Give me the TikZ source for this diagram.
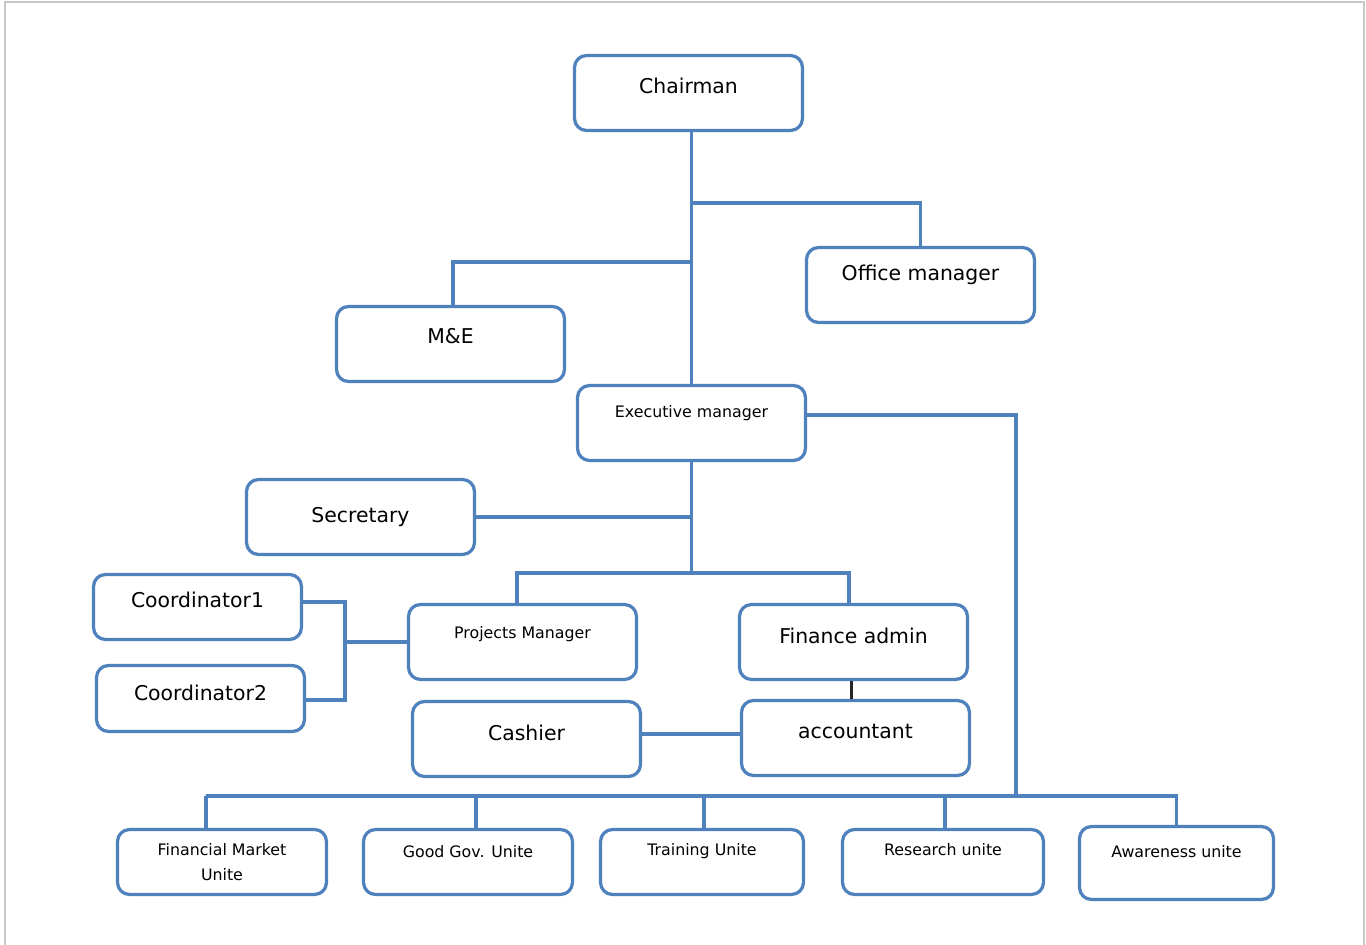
\documentclass[tikz,border=0pt]{standalone}
\usepackage{fontspec}
\setmainfont{DejaVu Sans}
\usetikzlibrary{calc}

\definecolor{orgblue}{RGB}{79,129,189}
\definecolor{framegray}{RGB}{200,200,200}

\begin{document}
\begin{tikzpicture}[x=0.02cm, y=-0.02cm]
	\tikzset{comp/.style={
		rectangle, draw=orgblue, line width=0.065cm, rounded corners=0.24cm, inner xsep=2pt, inner ysep=0pt
	}}
	\tikzset{component/.style={
		comp, minimum width=4.56cm, minimum height=1.5cm, font=\fontsize{11.6}{14}\selectfont
	}}
	\tikzset{component_small/.style={
		comp, minimum width=4.16cm, minimum height=1.3cm, font=\fontsize{9}{14}\selectfont
	}}
	\tikzset{smalltext/.style={
		font=\fontsize{9}{14}\selectfont
	}}
	\tikzset{textline/.style 2 args={
		text height=#1, text depth=#2
	}}
	\tikzset{conn/.style={
		draw=orgblue, line width=0.065cm
	}}

	\useasboundingbox (0,0) rectangle (1366,945);
	% Frame
	\draw[framegray, line width=0.04cm] (5,950) -- (5,2) -- (1364,2) -- (1364,950);

	% Top
	\node (Chairman) [component, textline={0.77cm}{0.73cm}] at (688.5,93) {Chairman};
	\node (Office) [component, textline={0.67cm}{0.83cm}] at (920.5,285) {Office manager};
	\node (ME) [component, textline={0.75cm}{0.75cm}] at (450.5,344) {M\&E};
	\node (Executive) [component, smalltext, textline={0.65cm}{0.85cm}] at (691.5,423) {Executive manager};
	\node (Secretary) [component, textline={0.87cm}{0.63cm}] at (360.5,517) {Secretary};

	% Projects
	\node (Coordinator1) [component, minimum width=4.16cm, minimum height=1.3cm, textline={0.65cm}{0.65cm}] at (197.5,607) {Coordinator1};
	\node (Coordinator2) [component, minimum width=4.16cm, minimum height=1.32cm, textline={0.69cm}{0.63cm}] at (200.5,698.5) {Coordinator2};
	\node (Projects) [component, smalltext, textline={0.67cm}{0.83cm}] at (522.5,642) {Projects Manager};
	\node (Cashier) [component, textline={0.77cm}{0.73cm}] at (526.5,739) {Cashier};

	% Finance
	\node (Finance) [component, textline={0.79cm}{0.71cm}] at (853.5,642) {Finance admin};
	\node (Accountant) [component, textline={0.75cm}{0.75cm}] at (855.5,738) {accountant};

	% Units
	\node (FinMarket) [component_small, minimum width=4.18cm, align=center] at (222,862) {Financial Market\\Unite};
	\node (GoodGov) [component_small, minimum width=4.18cm, textline={0.55cm}{0.75cm}] at (468,862) {Good Gov. Unite};
	\node (Training) [component_small, minimum width=4.06cm, textline={0.51cm}{0.79cm}] at (702,862) {Training Unite};
	\node (Research) [component_small, minimum width=4.02cm, textline={0.51cm}{0.79cm}] at (943,862) {Research unite};
	\node (Awareness) [component_small, minimum width=3.88cm, minimum height=1.46cm, textline={0.61cm}{0.85cm}] at (1176.5,863) {Awareness unite};

	% Junctions
	\coordinate (Office_branch) at (691.5,203);
	\coordinate (ME_branch) at (691.5,262);
	\coordinate (Split) at (691.5,573);
	\coordinate (Coord_bus) at (345,642);
	\coordinate (Bus_left) at (206,796);
	\coordinate (Bus_right) at (1016,796);

	% Chairman -> Executive
	\draw[conn] (Executive.north |- Chairman.south) -- (Executive.north);
	\draw[conn] (Office_branch) -| (Office.north);
	\draw[conn] (ME_branch) -| ([xshift=0.05cm]ME.north);

	% Executive
	\draw[conn] (Executive.south) -- (Split);
	\draw[conn] (Secretary.east) -- (Secretary.east -| Executive.south);
	\draw[conn] ([xshift=-0.11cm]Projects.north) |- (Split) -| ([xshift=-0.09cm]Finance.north);
	\draw[conn] ([yshift=0.16cm]Executive.east) -| (Bus_right);

	% Coordinators <-> Projects
	\draw[conn] ([yshift=0.1cm]Coordinator1.east) -| (Coord_bus) |- ([yshift=-0.03cm]Coordinator2.east);
	\draw[conn] (Projects.west) -- (Coord_bus);

	% Finance internal
	\draw[black!85, line width=0.06cm] ([xshift=-0.05cm]Finance.south) -- ([xshift=-0.05cm]Finance.south |- Accountant.north);
	\draw[conn] ([yshift=0.1cm]Cashier.east) -- ([yshift=0.1cm]Cashier.east -| Accountant.west);

	% Units bus
	\draw[conn] ([xshift=-0.32cm]FinMarket.north) |- (Bus_left) -| (Awareness.north);
	\draw[conn] ([xshift=0.16cm]GoodGov.north) -- ([xshift=0.16cm]GoodGov.north |- Bus_left);
	\draw[conn] ([xshift=0.04cm]Training.north) -- ([xshift=0.04cm]Training.north |- Bus_left);
	\draw[conn] ([xshift=0.04cm]Research.north) -- ([xshift=0.04cm]Research.north |- Bus_left);
\end{tikzpicture}
\end{document}
